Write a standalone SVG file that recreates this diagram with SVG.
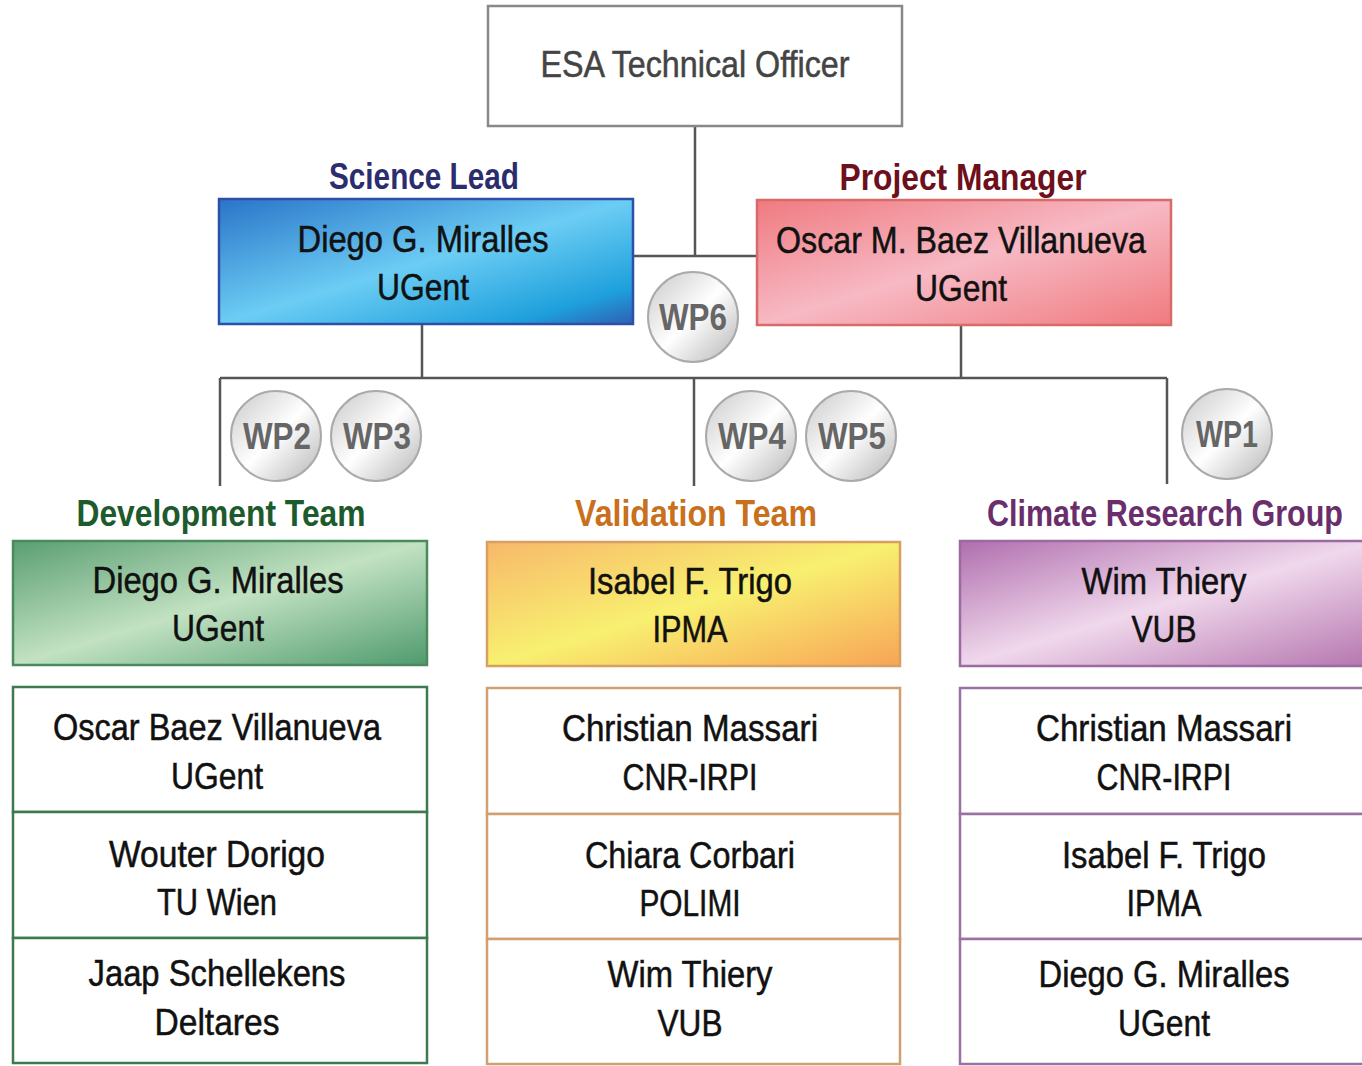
<svg xmlns="http://www.w3.org/2000/svg" width="1362" height="1066" viewBox="0 0 1362 1066">
  <defs>
    <linearGradient id="gBlue" x1="0" y1="0" x2="1" y2="1">
      <stop offset="0" stop-color="#2a74c8"/>
      <stop offset="0.5" stop-color="#6ccdf4"/>
      <stop offset="0.85" stop-color="#1ea0dc"/>
      <stop offset="1" stop-color="#2f5fb4"/>
    </linearGradient>
    <linearGradient id="gPink" x1="0" y1="0" x2="1" y2="1">
      <stop offset="0" stop-color="#f07a80"/>
      <stop offset="0.5" stop-color="#f7b9c4"/>
      <stop offset="1" stop-color="#f07a7e"/>
    </linearGradient>
    <linearGradient id="gGreen" x1="0" y1="0" x2="1" y2="1">
      <stop offset="0" stop-color="#5a9e72"/>
      <stop offset="0.5" stop-color="#c2e2c2"/>
      <stop offset="1" stop-color="#4f9a6e"/>
    </linearGradient>
    <linearGradient id="gYellow" x1="0" y1="0" x2="1" y2="1">
      <stop offset="0" stop-color="#f8b86a"/>
      <stop offset="0.5" stop-color="#f8f070"/>
      <stop offset="1" stop-color="#f8a456"/>
    </linearGradient>
    <linearGradient id="gPurple" x1="0" y1="0" x2="1" y2="1">
      <stop offset="0" stop-color="#b06eae"/>
      <stop offset="0.5" stop-color="#f0d8ec"/>
      <stop offset="1" stop-color="#b474ae"/>
    </linearGradient>
    <linearGradient id="gSilver" x1="0" y1="0" x2="1" y2="1">
      <stop offset="0" stop-color="#c8c8c8"/>
      <stop offset="0.5" stop-color="#ffffff"/>
      <stop offset="1" stop-color="#b4b4b4"/>
    </linearGradient>
    <style>
      text { font-family: "Liberation Sans", Arial, sans-serif; text-anchor: middle; }
      .name { font-size: 36px; fill: #111; stroke: #111; stroke-width: 0.5px; }
      .head { font-size: 37px; font-weight: bold; }
      .wp { font-size: 36px; font-weight: bold; fill: #666; }
      .wpc { fill: url(#gSilver); stroke: #aaaaaa; stroke-width: 2; }
      .conn { stroke: #555; stroke-width: 2.5; fill: none; }
      .row { fill: #fff; stroke-width: 2.5; }
    </style>
  </defs>

  <!-- connectors -->
  <g id="connectors">
    <path class="conn" d="M695 126 V256 M633 256 H757"/>
    <path class="conn" d="M422 324 V378 M961 325 V378 M220 378 H1167"/>
    <path class="conn" d="M220 378 V486 M694 378 V486 M1167 378 V484"/>
  </g>

  <!-- ESA Technical Officer -->
  <g id="esa">
    <rect x="488" y="6" width="414" height="120" fill="#fff" stroke="#888" stroke-width="2.5"/>
    <text x="695" y="77" style="font-size:36px;fill:#444;stroke:#444;stroke-width:0.5px" textLength="309" lengthAdjust="spacingAndGlyphs">ESA Technical Officer</text>
  </g>

  <!-- Science Lead -->
  <g id="science-lead">
    <text class="head" x="424" y="189" fill="#2b2d6e" textLength="190" lengthAdjust="spacingAndGlyphs">Science Lead</text>
    <rect x="219" y="199" width="414" height="125" fill="url(#gBlue)" stroke="#2d4fa8" stroke-width="2.5"/>
    <text class="name" x="423" y="252" textLength="251" lengthAdjust="spacingAndGlyphs">Diego G. Miralles</text>
    <text class="name" x="423" y="300" textLength="92" lengthAdjust="spacingAndGlyphs">UGent</text>
  </g>

  <!-- Project Manager -->
  <g id="project-manager">
    <text class="head" x="963" y="190" fill="#6e0f1c" textLength="247" lengthAdjust="spacingAndGlyphs">Project Manager</text>
    <rect x="757" y="200" width="414" height="125" fill="url(#gPink)" stroke="#d86a6a" stroke-width="2.5"/>
    <text class="name" x="961" y="253" textLength="370" lengthAdjust="spacingAndGlyphs">Oscar M. Baez Villanueva</text>
    <text class="name" x="961" y="301" textLength="92" lengthAdjust="spacingAndGlyphs">UGent</text>
  </g>

  <!-- work package badges -->
  <g id="wp6"><circle class="wpc" cx="693" cy="317" r="45"/><text class="wp" x="693" y="330" textLength="68" lengthAdjust="spacingAndGlyphs">WP6</text></g>
  <g id="wp2"><circle class="wpc" cx="276" cy="436" r="45"/><text class="wp" x="277" y="449" textLength="68" lengthAdjust="spacingAndGlyphs">WP2</text></g>
  <g id="wp3"><circle class="wpc" cx="376" cy="436" r="45"/><text class="wp" x="377" y="449" textLength="68" lengthAdjust="spacingAndGlyphs">WP3</text></g>
  <g id="wp4"><circle class="wpc" cx="751" cy="436" r="45"/><text class="wp" x="752" y="449" textLength="68" lengthAdjust="spacingAndGlyphs">WP4</text></g>
  <g id="wp5"><circle class="wpc" cx="851" cy="436" r="45"/><text class="wp" x="852" y="449" textLength="68" lengthAdjust="spacingAndGlyphs">WP5</text></g>
  <g id="wp1"><circle class="wpc" cx="1227" cy="434" r="45"/><text class="wp" x="1227" y="447" textLength="62" lengthAdjust="spacingAndGlyphs">WP1</text></g>

  <!-- Development Team -->
  <g id="development-team">
    <text class="head" x="221" y="526" fill="#1d5a2c" textLength="289" lengthAdjust="spacingAndGlyphs">Development Team</text>
    <rect x="13" y="541" width="414" height="124" fill="url(#gGreen)" stroke="#4a8a5e" stroke-width="2.5"/>
    <text class="name" x="218" y="593" textLength="251" lengthAdjust="spacingAndGlyphs">Diego G. Miralles</text>
    <text class="name" x="218" y="641" textLength="92" lengthAdjust="spacingAndGlyphs">UGent</text>
  </g>
  <g id="development-members">
    <g stroke="#3d7a50">
      <rect class="row" x="13" y="687" width="414" height="125"/>
      <rect class="row" x="13" y="812" width="414" height="126"/>
      <rect class="row" x="13" y="938" width="414" height="125"/>
    </g>
    <text class="name" x="217" y="740" textLength="328" lengthAdjust="spacingAndGlyphs">Oscar Baez Villanueva</text>
    <text class="name" x="217" y="789" textLength="92" lengthAdjust="spacingAndGlyphs">UGent</text>
    <text class="name" x="217" y="867" textLength="216" lengthAdjust="spacingAndGlyphs">Wouter Dorigo</text>
    <text class="name" x="217" y="915" textLength="120" lengthAdjust="spacingAndGlyphs">TU Wien</text>
    <text class="name" x="217" y="986" textLength="257" lengthAdjust="spacingAndGlyphs">Jaap Schellekens</text>
    <text class="name" x="217" y="1035" textLength="125" lengthAdjust="spacingAndGlyphs">Deltares</text>
  </g>

  <!-- Validation Team -->
  <g id="validation-team">
    <text class="head" x="696" y="526" fill="#c8701c" textLength="242" lengthAdjust="spacingAndGlyphs">Validation Team</text>
    <rect x="487" y="542" width="413" height="124" fill="url(#gYellow)" stroke="#d8a060" stroke-width="2.5"/>
    <text class="name" x="690" y="594" textLength="204" lengthAdjust="spacingAndGlyphs">Isabel F. Trigo</text>
    <text class="name" x="690" y="642" textLength="75" lengthAdjust="spacingAndGlyphs">IPMA</text>
  </g>
  <g id="validation-members">
    <g stroke="#d0a070">
      <rect class="row" x="487" y="688" width="413" height="126"/>
      <rect class="row" x="487" y="814" width="413" height="125"/>
      <rect class="row" x="487" y="939" width="413" height="125"/>
    </g>
    <text class="name" x="690" y="741" textLength="256" lengthAdjust="spacingAndGlyphs">Christian Massari</text>
    <text class="name" x="690" y="790" textLength="135" lengthAdjust="spacingAndGlyphs">CNR-IRPI</text>
    <text class="name" x="690" y="868" textLength="210" lengthAdjust="spacingAndGlyphs">Chiara Corbari</text>
    <text class="name" x="690" y="916" textLength="101" lengthAdjust="spacingAndGlyphs">POLIMI</text>
    <text class="name" x="690" y="987" textLength="165" lengthAdjust="spacingAndGlyphs">Wim Thiery</text>
    <text class="name" x="690" y="1036" textLength="65" lengthAdjust="spacingAndGlyphs">VUB</text>
  </g>

  <!-- Climate Research Group -->
  <g id="climate-research-group">
    <text class="head" x="1165" y="526" fill="#6a2e6c" textLength="356" lengthAdjust="spacingAndGlyphs">Climate Research Group</text>
    <rect x="960" y="541" width="414" height="125" fill="url(#gPurple)" stroke="#9a6aa0" stroke-width="2.5"/>
    <text class="name" x="1164" y="594" textLength="165" lengthAdjust="spacingAndGlyphs">Wim Thiery</text>
    <text class="name" x="1164" y="642" textLength="65" lengthAdjust="spacingAndGlyphs">VUB</text>
  </g>
  <g id="climate-members">
    <g stroke="#9a72a2">
      <rect class="row" x="960" y="688" width="414" height="126"/>
      <rect class="row" x="960" y="814" width="414" height="125"/>
      <rect class="row" x="960" y="939" width="414" height="125"/>
    </g>
    <text class="name" x="1164" y="741" textLength="256" lengthAdjust="spacingAndGlyphs">Christian Massari</text>
    <text class="name" x="1164" y="790" textLength="135" lengthAdjust="spacingAndGlyphs">CNR-IRPI</text>
    <text class="name" x="1164" y="868" textLength="204" lengthAdjust="spacingAndGlyphs">Isabel F. Trigo</text>
    <text class="name" x="1164" y="916" textLength="75" lengthAdjust="spacingAndGlyphs">IPMA</text>
    <text class="name" x="1164" y="987" textLength="251" lengthAdjust="spacingAndGlyphs">Diego G. Miralles</text>
    <text class="name" x="1164" y="1036" textLength="92" lengthAdjust="spacingAndGlyphs">UGent</text>
  </g>
</svg>
